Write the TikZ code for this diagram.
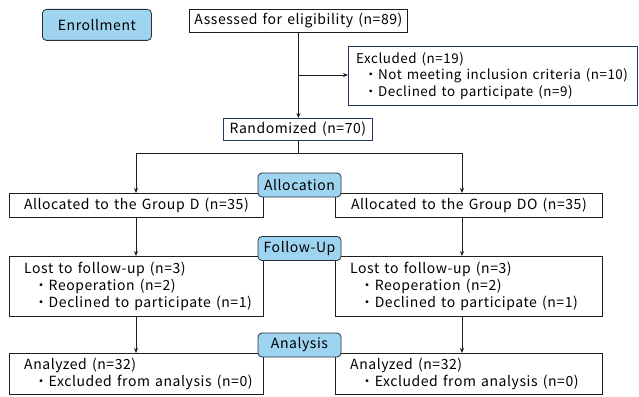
\documentclass[tikz,border=0pt]{standalone}
\usepackage{fontspec}
\setmainfont[LetterSpace=4,WordSpace=1.4]{Noto Sans CJK JP}
\usetikzlibrary{arrows.meta}
\definecolor{lblfill}{RGB}{158,212,240}
\definecolor{lbldraw}{RGB}{40,48,58}
\definecolor{navy}{RGB}{31,56,100}
\definecolor{linec}{RGB}{30,30,30}
\tikzset{
  box/.style={draw=linec, line width=0.8pt, anchor=north west, inner sep=0pt, font=\fontsize{14}{17}\selectfont},
  navybox/.style={box, draw=navy},
  txt/.style={anchor=west, inner sep=0pt, align=left, font=\fontsize{14}{17}\selectfont},
  lbl/.style={draw=lbldraw, fill=lblfill, line width=0.8pt, rounded corners=4pt, inner sep=0pt, font=\fontsize{14}{17}\selectfont},
  conn/.style={draw=linec, line width=0.8pt},
  arr/.style={conn, -{Stealth[length=5pt,width=4pt]}},
}
\newcommand{\bul}[1][10pt]{\hspace*{#1}・}
\begin{document}
\begin{tikzpicture}[x=1pt,y=-1pt]
\useasboundingbox (0,0) rectangle (639,396);
% enrollment
\node[lbl, anchor=north west, minimum width=109pt, minimum height=31pt] (enr) at (42,9) {Enrollment};
% top boxes
\node[box, minimum width=218pt, minimum height=23pt] (assess) at (189,9) {Assessed for eligibility (n=89)};
\node[navybox, minimum width=289pt, minimum height=59pt] (excl) at (348,46) {};
\node[txt, font=\fontsize{13.4}{16.5}\selectfont] (exclt) at ([xshift=8pt]excl.west) {Excluded (n=19)\\\bul[8pt]Not meeting inclusion criteria (n=10)\\\bul[8pt]Declined to participate (n=9)};
\node[navybox, minimum width=149pt, minimum height=22pt] (rand) at (223,118) {Randomized (n=70)};
% allocation
\node[box, minimum width=254pt, minimum height=24pt] (allD) at (9,193) {Allocated to the Group D (n=35)};
\node[box, minimum width=267pt, minimum height=24pt] (allDO) at (335,193) {Allocated to the Group DO (n=35)};
% follow-up
\node[box, minimum width=254pt, minimum height=60pt] (lostD) at (9,256) {};
\node[txt] (lostDt) at ([xshift=15pt]lostD.west) {Lost to follow-up (n=3)\\\bul Reoperation (n=2)\\\bul Declined to participate (n=1)};
\node[box, minimum width=267pt, minimum height=60pt] (lostDO) at (335,256) {};
\node[txt] (lostDOt) at ([xshift=15pt]lostDO.west) {Lost to follow-up (n=3)\\\bul Reoperation (n=2)\\\bul Declined to participate (n=1)};
% analysis
\node[box, minimum width=254pt, minimum height=41pt] (anD) at (9,353) {};
\node[txt] (anDt) at ([xshift=15pt]anD.west) {Analyzed (n=32)\\\bul Excluded from analysis (n=0)};
\node[box, minimum width=267pt, minimum height=41pt] (anDO) at (335,353) {};
\node[txt] (anDOt) at ([xshift=15pt]anDO.west) {Analyzed (n=32)\\\bul Excluded from analysis (n=0)};
% connectors
\coordinate (j1) at (298,75);
\coordinate (j2) at (298,153);
\coordinate (cl) at (136,153);
\coordinate (cr) at (462,153);
\draw[arr] (assess.south) -- (assess.south |- rand.north);
\draw[arr] (j1) -- (excl.west |- j1);
\draw[conn] (rand.south -| j2) -- (j2);
\draw[conn] (cl) -- (cr);
\draw[arr] (cl) -- (cl |- allD.north);
\draw[arr] (cr) -- (cr |- allDO.north);
\draw[arr] (cl |- allD.south) -- (cl |- lostD.north);
\draw[arr] (cr |- allDO.south) -- (cr |- lostDO.north);
\draw[arr] (cl |- lostD.south) -- (cl |- anD.north);
\draw[arr] (cr |- lostDO.south) -- (cr |- anDO.north);
% stage labels
\node[lbl, minimum width=83pt, minimum height=24pt] (lalloc) at (299.5,185) {Allocation};
\node[lbl, minimum width=83pt, minimum height=24pt] (lfollow) at (299.5,248.5) {Follow-Up};
\node[lbl, minimum width=83pt, minimum height=24pt] (lanal) at (299.5,345) {Analysis};
\end{tikzpicture}
\end{document}
